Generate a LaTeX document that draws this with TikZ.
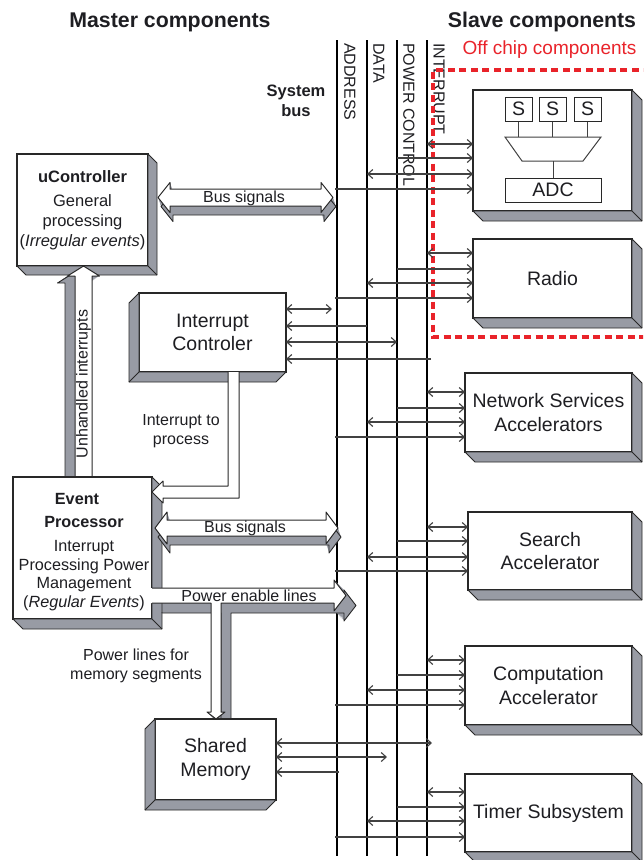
\documentclass[tikz,border=0pt]{standalone}
\usepackage{fontspec}
\setmainfont{Liberation Sans}
\usetikzlibrary{arrows.meta}
\definecolor{ext}{RGB}{152,155,164}
\definecolor{edge}{RGB}{40,40,40}
\definecolor{conn}{RGB}{65,65,65}
\definecolor{offred}{RGB}{233,35,42}
\definecolor{txt}{RGB}{30,30,34}
\newcommand\fHead{\fontsize{21.3}{25}\selectfont\bfseries}
\newcommand\fBig{\fontsize{19.5}{23.5}\selectfont}
\newcommand\fMid{\fontsize{16.5}{20}\selectfont}
\newcommand\fBus{\fontsize{16}{19}\selectfont}
\newcommand\extRD[2]{\draw[extr] (#1.north east) -- ++(#2,#2) -- ([shift={(#2,#2)}]#1.south east) -- ([shift={(#2,#2)}]#1.south west) -- (#1.south west) -- (#1.south east) -- cycle; \draw[edgeline] (#1.south east) -- ++(#2,#2);}
\newcommand\extLD[2]{\draw[extr] (#1.north west) -- ++(-#2,#2) -- ([shift={(-#2,#2)}]#1.south west) -- ([shift={(-#2,#2)}]#1.south east) -- (#1.south east) -- (#1.south west) -- cycle; \draw[edgeline] (#1.south west) -- ++(-#2,#2);}
\newcommand\extArrow[3]{\foreach \k in {1,...,12}{\fill[ext, shift={({\k*(#1)/12},{\k*(#2)/12})}] #3;}\draw[edgeline,shift={(#1,#2)}] #3;}
\begin{document}
\begin{tikzpicture}[x=1pt,y=-1pt,
  face/.style={draw=edge, fill=white, line width=1.1pt, inner sep=0pt, outer sep=0pt, align=center, text=txt},
  conn/.style={draw=conn, line width=1.1pt},
  busline/.style={draw=black, line width=1.8pt},
  extr/.style={fill=ext, draw=edge, line width=0.9pt, line join=round},
  edgeline/.style={draw=edge, line width=0.9pt, line join=round},
  arrbody/.style={draw=edge, line width=1pt, line join=round},
  lbl/.style={text=txt, inner sep=0pt, align=center},
  sbox/.style={draw=edge, fill=white, line width=1pt, inner sep=0pt, minimum width=27pt, minimum height=24pt, font=\fBig, text=txt},
  inner/.style={draw=conn, line width=1pt},
  >={Straight Barb[length=5pt,width=9pt]}]
\useasboundingbox (0,0) rectangle (643,860);
\clip (0,0) rectangle (643,860);

% headings
\node[lbl, font=\fHead] (mc) at (170,22) {Master components};
\node[lbl, font=\fHead] (sc) at (542,22) {Slave components};
\node[lbl, font=\fMid\bfseries] (sb) at (296,101) {System\\bus};

% system bus lines
\coordinate (addrT) at (337,40); \coordinate (addrB) at (337,856);
\coordinate (dataT) at (367,40); \coordinate (dataB) at (367,856);
\coordinate (pwrT) at (397,40);  \coordinate (pwrB) at (397,856);
\coordinate (intT) at (427,40);  \coordinate (intB) at (427,856);
\draw[busline] (addrT) -- (addrB);
\draw[busline] (dataT) -- (dataB);
\draw[busline] (pwrT) -- (pwrB);
\draw[busline] (intT) -- (intB);
\node[lbl, font=\fBus, rotate=-90, anchor=west] (laddr) at (350,43) {ADDRESS};
\node[lbl, font=\fBus, rotate=-90, anchor=west] (ldata) at (379,43) {DATA};
\node[lbl, font=\fBus, rotate=-90, anchor=west] (lpwr) at (409,43) {POWER CONTROL};
\node[lbl, font=\fBus, rotate=-90, anchor=west] (lint) at (439,43) {INTERRUPT};

% off chip region
\draw[offred, line width=3.5pt, dash pattern=on 7pt off 4.5pt] (650,70) -- (433,70) -- (433,337) -- (650,337);
\node[lbl, font=\fontsize{19}{22}\selectfont, text=offred] (off) at (549.5,50) {Off chip components};

% slave components
\node[face, minimum width=159pt, minimum height=121pt] (adcb) at (552.5,150.5) {};
\extRD{adcb}{10}
\node[face, font=\fBig, minimum width=159pt, minimum height=79pt] (radio) at (552.5,278.5) {Radio};
\extRD{radio}{10}
\node[face, font=\fBig, minimum width=167pt, minimum height=79pt] (nsa) at (548.5,412.5) {Network Services\\Accelerators};
\extRD{nsa}{10}
\node[face, font=\fBig, minimum width=164pt, minimum height=78pt] (sa) at (550,551) {Search\\Accelerator};
\extRD{sa}{10}
\node[face, font=\fBig, minimum width=167pt, minimum height=79pt] (ca) at (548.5,685.5) {Computation\\Accelerator};
\extRD{ca}{10}
\node[face, font=\fBig, minimum width=167pt, minimum height=78pt] (ts) at (548.5,813) {Timer Subsystem};
\extRD{ts}{10}

% ADC internals
\node[sbox] (s1) at (518.5,109) {S};
\node[sbox] (s2) at (552.5,109) {S};
\node[sbox] (s3) at (587.5,109) {S};
\coordinate (muxTL) at (505,137); \coordinate (muxTR) at (601,137);
\coordinate (muxBR) at (583,161); \coordinate (muxBL) at (522,161);
\draw[inner] (muxTL) -- (muxTR) -- (muxBR) -- (muxBL) -- cycle;
\draw[inner] (s1.south) -- (s1.south |- muxTL);
\draw[inner] (s2.south) -- (s2.south |- muxTL);
\draw[inner] (s3.south) -- (s3.south |- muxTL);
\node[sbox, minimum width=96pt] (adc) at (553,190) {ADC};
\draw[inner] (adc.north |- muxBL) -- (adc.north);

% slave connectors
\foreach \bx/\ya/\yb/\yc/\yd in {adcb/144/158/174/189, radio/253/269/283/298, nsa/392/408/422/437, sa/527/541/557/571, ca/660/675/690/705, ts/792/807/821/837} {
  \path (0,\ya) coordinate (ya) (0,\yb) coordinate (yb) (0,\yc) coordinate (yc) (0,\yd) coordinate (yd);
  \draw[conn,<->] (intT |- ya) -- (\bx.west |- ya);
  \draw[conn,->] (pwrT |- yb) -- (\bx.west |- yb);
  \draw[conn,<->] (dataT |- yc) -- (\bx.west |- yc);
  \draw[conn,->] ([xshift=-2pt]addrT |- yd) -- (\bx.west |- yd);
}

% uController
\node[face, font=\fMid, minimum width=131pt, minimum height=112pt] (uc) at (82.5,210)
  {\textbf{uController}\\[4pt] General\\ processing\\ (\textit{Irregular events})};
\extRD{uc}{9}

% unhandled interrupts arrow
\extArrow{-10}{7}{(75,477) -- (75,276) -- (67.5,276) -- (83.5,266) -- (99.5,276) -- (92,276) -- (92,477) -- cycle}
\fill[white] (75,477) -- (75,276) -- (67.5,276) -- (83.5,266) -- (99.5,276) -- (92,276) -- (92,477) -- cycle;
\draw[arrbody] (75,477) -- (75,276) -- (67.5,276) -- (83.5,266) -- (99.5,276) -- (92,276) -- (92,477);
\node[lbl, font=\fBus, rotate=90] (uh) at (83.5,384) {Unhandled interrupts};

% interrupt controller
\node[face, font=\fBig, minimum width=147pt, minimum height=79pt] (ic) at (212.5,332.5) {Interrupt\\Controler};
\extLD{ic}{10}

% event processor
\node[face, minimum width=139pt, minimum height=142pt] (ep) at (82.5,548) {};
\extRD{ep}{10}
\node[lbl, font=\fontsize{16.2}{18.5}\selectfont] (eptext) at (84,552)
  {\textbf{Event}\hspace*{14pt}\\[4.5pt] \textbf{Processor}\hspace*{18pt}\\[6pt] Interrupt\\ Processing Power\\ Management\\ (\textit{Regular Events})};

% interrupt to process arrow
\fill[white] (228,372) -- (228,486) -- (163,486) -- (163,481) -- (152,492) -- (163,503) -- (163,498) -- (239,498) -- (239,372) -- cycle;
\draw[arrbody] (228,372) -- (228,486) -- (163,486) -- (163,481) -- (152,492) -- (163,503) -- (163,498) -- (239,498) -- (239,372);
\node[lbl, font=\fBus] (itp) at (181,431) {Interrupt to\\process};

% bus signal arrows
\extArrow{3}{9}{(158,197.5) -- (170,182.5) -- (170,189) -- (321,189) -- (321,182.5) -- (333,197.5) -- (321,212.5) -- (321,206) -- (170,206) -- (170,212.5) -- cycle}
\filldraw[arrbody, fill=white] (158,197.5) -- (170,182.5) -- (170,189) -- (321,189) -- (321,182.5) -- (333,197.5) -- (321,212.5) -- (321,206) -- (170,206) -- (170,212.5) -- cycle;
\node[lbl, font=\fBus] (bs1) at (244,198) {Bus signals};
\extArrow{3}{9}{(155,528) -- (167,512) -- (167,520) -- (326,520) -- (326,512) -- (338,528) -- (326,544) -- (326,536) -- (167,536) -- (167,544) -- cycle}
\filldraw[arrbody, fill=white] (155,528) -- (167,512) -- (167,520) -- (326,520) -- (326,512) -- (338,528) -- (326,544) -- (326,536) -- (167,536) -- (167,544) -- cycle;
\node[lbl, font=\fBus] (bs2) at (245,528) {Bus signals};

% power enable lines arrow with branch to memory
\extArrow{10}{10}{(152,588) -- (334,588) -- (334,580) -- (346,595.5) -- (334,611) -- (334,603) -- (221,603) -- (221,712) -- (225,712) -- (216,719) -- (207,712) -- (211,712) -- (211,603) -- (152,603) -- cycle}
\fill[white] (151,588) -- (334,588) -- (334,580) -- (346,595.5) -- (334,611) -- (334,603) -- (221,603) -- (221,712) -- (225,712) -- (216,719) -- (207,712) -- (211,712) -- (211,603) -- (151,603) -- cycle;
\draw[arrbody] (152,588) -- (334,588) -- (334,580) -- (346,595.5) -- (334,611) -- (334,603) -- (221,603) -- (221,712) -- (225,712) -- (216,719) -- (207,712) -- (211,712) -- (211,603) -- (152,603);
\node[lbl, font=\fBus] (pel) at (249,596) {Power enable lines};
\node[lbl, font=\fBus] (plm) at (136,666) {Power lines for\\memory segments};

% shared memory
\node[face, font=\fBig, minimum width=121pt, minimum height=81pt] (sm) at (215.5,759.5) {Shared\\Memory};
\extLD{sm}{10}

% interrupt controller connectors
\path (0,309) coordinate (c1) (0,326) coordinate (c2) (0,342) coordinate (c3) (0,359) coordinate (c4);
\draw[conn,<->] (ic.east |- c1) -- ([xshift=-5pt]addrT |- c1);
\draw[conn,->] (dataT |- c2) -- (ic.east |- c2);
\draw[conn,<->] (ic.east |- c3) -- (pwrT |- c3);
\draw[conn,->] ([xshift=4pt]intT |- c4) -- (ic.east |- c4);

% shared memory connectors
\path (0,743) coordinate (m1) (0,757) coordinate (m2) (0,772) coordinate (m3);
\draw[conn,<->] (sm.east |- m1) -- ([xshift=5pt]intT |- m1);
\draw[conn,<->] (sm.east |- m2) -- ([xshift=-10pt]pwrT |- m2);
\draw[conn,->] ([xshift=2pt]addrT |- m3) -- (sm.east |- m3);
\end{tikzpicture}
\end{document}
